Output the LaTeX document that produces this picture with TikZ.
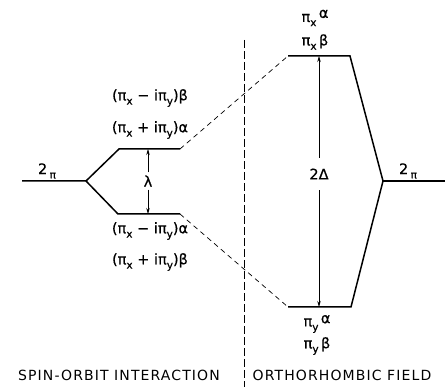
\documentclass[tikz,border=0pt]{standalone}
\usepackage{fontspec}
\setmainfont{DejaVu Sans}
\usetikzlibrary{arrows.meta}
\newcommand\sbx[1]{\raisebox{-0.55ex}{\fontsize{10.5}{11}\selectfont #1}}
\newcommand\pix{π\sbx{x}}
\newcommand\piy{π\sbx{y}}
\begin{document}
\begin{tikzpicture}[x=1pt,y=-1pt,
  level/.style={line width=1.5pt},
  conn/.style={line width=0.7pt, dash pattern=on 5pt off 4pt},
  sepline/.style={line width=0.8pt, dash pattern=on 8pt off 3pt},
  dimline/.style={line width=0.7pt},
  lab/.style={font=\fontsize{14.5}{16}\selectfont\addfontfeature{FakeBold=0.6}, inner sep=1pt},
  captxt/.style={font=\fontsize{14}{16}\selectfont\addfontfeature{LetterSpace=8}, inner sep=0pt},
  tipend/.style={-{Stealth[length=6pt,width=3.5pt]}}]
\useasboundingbox (0,0) rectangle (445,387);
% levels
\coordinate (L0) at (22,181);
\coordinate (Lb) at (86,181);
\coordinate (U1) at (119,149);
\coordinate (U2) at (180,149);
\coordinate (D1) at (118,214);
\coordinate (D2) at (180,214);
\coordinate (T1) at (288,56);
\coordinate (T2) at (350,56);
\coordinate (B1) at (288,307);
\coordinate (B2) at (351,307);
\coordinate (Rb) at (383,181);
\coordinate (R0) at (445,181);
\draw[level] (L0) -- (Lb) -- (U1) -- (U2);
\draw[level] (Lb) -- (D1) -- (D2);
\draw[level] (T1) -- (T2) -- (Rb) -- (B2) -- (B1);
\draw[level] (Rb) -- (R0);
\draw[conn] (U2) -- (T1);
\draw[conn] (D2) -- (B1);
% separator
\coordinate (V1) at (244,40);
\coordinate (V2) at (244,387);
\draw[sepline] (V1) -- (V2);
% lambda
\node[lab, inner sep=3pt] (lam) at (148,181) {λ};
\coordinate (lamT) at (148,149);
\coordinate (lamB) at (148,214);
\draw[dimline,tipend] (lam.north) -- (lamT);
\draw[dimline,tipend] (lam.south) -- (lamB);
% 2 Delta
\node[lab, inner sep=0pt, minimum height=32pt] (del) at (319,174) {2Δ};
\coordinate (delT) at (319,56);
\coordinate (delB) at (319,307);
\draw[dimline,tipend] (del.north) -- (delT);
\draw[dimline,tipend] (del.south) -- (delB);
% 2pi labels
\node[lab] (twopiL) at (47,171) {2\,\sbx{π}};
\node[lab] (twopiR) at (408,171) {2\,\sbx{π}};
% spin-orbit labels
\node[lab] (s1) at (150,98) {(\pix\ − i\piy)β};
\node[lab] (s2) at (150,130) {(\pix\ + i\piy)α};
\node[lab] (s3) at (150,231) {(\pix\ − i\piy)α};
\node[lab] (s4) at (150,262) {(\pix\ + i\piy)β};
% orthorhombic labels
\node[lab] (o1) at (315,18) {\pix\,\raisebox{0.5ex}{α}};
\node[lab] (o2) at (315,42) {\pix\,β};
\node[lab] (o3) at (317,324) {\piy\,\raisebox{0.4ex}{α}};
\node[lab] (o4) at (317,346) {\piy\,β};
% captions
\node[captxt] (c1) at (119,375) {SPIN-ORBIT INTERACTION};
\node[captxt] (c2) at (342,375) {ORTHORHOMBIC FIELD};
\end{tikzpicture}
\end{document}
